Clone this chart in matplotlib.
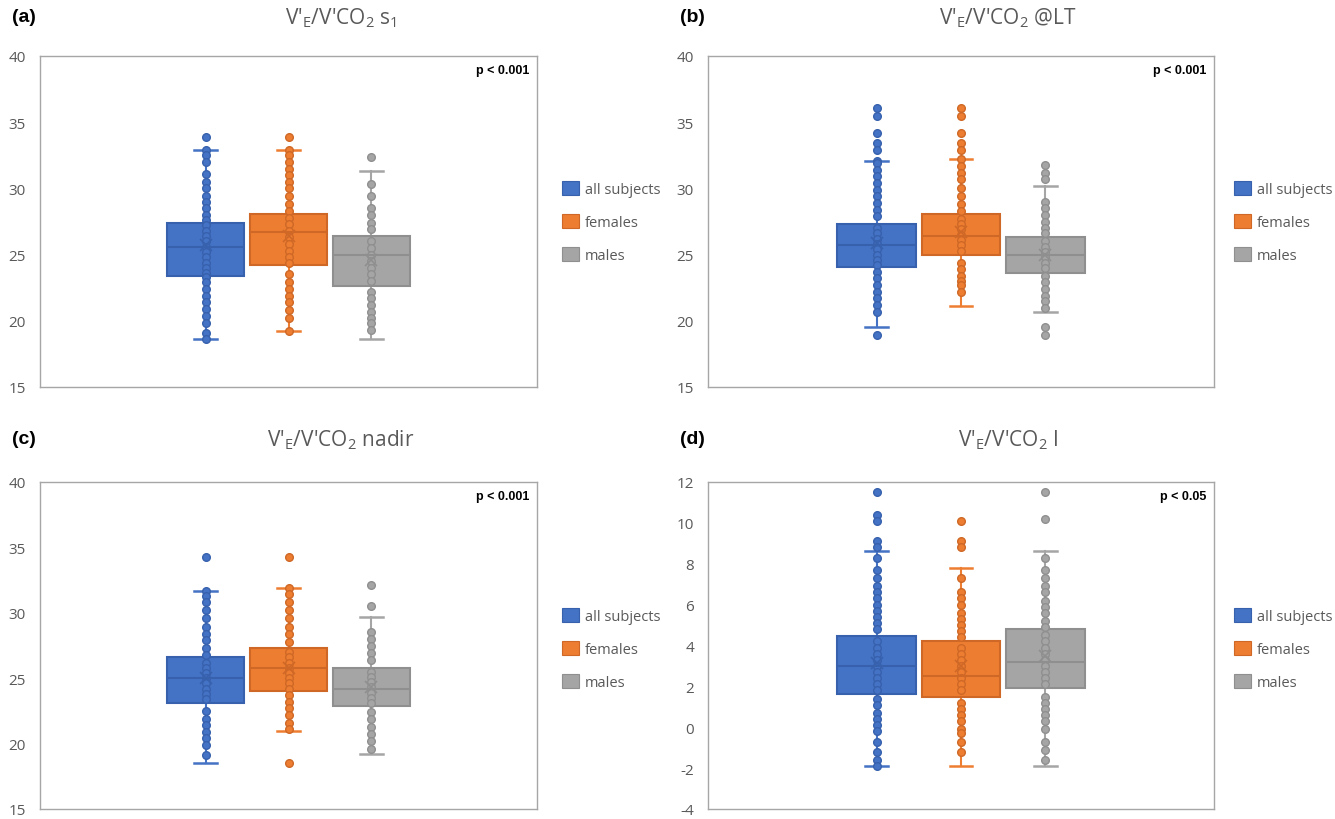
import matplotlib
matplotlib.use("Agg")
import matplotlib.pyplot as plt
from matplotlib.patches import Patch

plt.rcParams["axes.unicode_minus"] = False

# ---- data ----
groups = ["all subjects", "females", "males"]
colors = ["#4472C4", "#ED7D31", "#A5A5A5"]
dark = ["#3761ad", "#cf6826", "#8f8f8f"]

titles = [r"V'$_{\mathregular{E}}$/V'CO$_{\mathregular{2}}$ s$_{\mathregular{1}}$",
          r"V'$_{\mathregular{E}}$/V'CO$_{\mathregular{2}}$ @LT",
          r"V'$_{\mathregular{E}}$/V'CO$_{\mathregular{2}}$ nadir",
          r"V'$_{\mathregular{E}}$/V'CO$_{\mathregular{2}}$ I"]
letters = ["(a)", "(b)", "(c)", "(d)"]
pvals = ["p < 0.001", "p < 0.001", "p < 0.001", "p < 0.05"]

# box summaries: [all, females, males]
a_lo = [18.6, 19.2, 18.6]
a_q1 = [23.4, 24.2, 22.6]
a_med = [25.6, 26.7, 25.0]
a_q3 = [27.4, 28.1, 26.4]
a_hi = [32.9, 32.9, 31.3]
a_mean = [25.7, 26.4, 24.6]

b_lo = [19.5, 21.1, 20.7]
b_q1 = [24.1, 25.0, 23.6]
b_med = [25.7, 26.4, 25.0]
b_q3 = [27.3, 28.1, 26.3]
b_hi = [32.1, 32.2, 30.2]
b_mean = [25.9, 26.7, 25.0]

c_lo = [18.5, 21.0, 19.2]
c_q1 = [23.1, 24.0, 22.9]
c_med = [25.0, 25.8, 24.2]
c_q3 = [26.6, 27.3, 25.8]
c_hi = [31.7, 31.9, 29.7]
c_mean = [25.0, 25.8, 24.3]

d_lo = [-1.9, -1.9, -1.9]
d_q1 = [1.64, 1.5, 1.9]
d_med = [3.0, 2.5, 3.2]
d_q3 = [4.48, 4.2, 4.8]
d_hi = [8.6, 7.8, 8.6]
d_mean = [3.15, 3.0, 3.5]

# individual points
a_all = [33.9, 32.9, 32.5, 32.0, 31.1, 30.5, 30.0, 29.4, 29.0, 28.5, 28.0, 27.6, 27.2, 26.8, 26.4, 26.0,
         25.6, 25.2, 24.8, 24.4, 24.0, 23.6, 23.3, 22.9, 22.4, 21.9, 21.4, 20.9, 20.4, 19.8, 19.1, 18.6]
a_fem = [33.9, 32.9, 32.5, 32.0, 31.5, 31.0, 30.5, 30.0, 29.4, 28.8, 28.3, 27.8, 27.3, 26.8, 26.3, 25.8,
         25.3, 24.8, 24.4, 23.5, 22.9, 22.4, 21.9, 21.4, 20.8, 20.2, 19.2]
a_male = [32.4, 30.3, 29.4, 28.5, 28.0, 27.4, 26.9, 26.0, 25.5, 25.0, 24.5, 24.0, 23.5, 23.0, 22.2,
          21.7, 21.2, 20.7, 20.2, 19.8, 19.3]

b_all = [36.1, 35.5, 34.2, 33.4, 32.9, 32.1, 31.9, 31.4, 30.9, 30.4, 29.9, 29.4, 28.9, 28.4, 27.9, 27.0,
         26.6, 26.2, 25.8, 25.4, 25.0, 24.6, 24.2, 23.7, 23.2, 22.7, 22.2, 21.7, 21.2, 20.7, 18.9]
b_fem = [36.1, 35.5, 34.2, 33.4, 32.9, 32.2, 31.7, 31.2, 30.7, 30.0, 29.4, 28.8, 28.3, 27.7, 27.3, 26.9,
         26.5, 26.1, 25.7, 25.3, 24.4, 23.9, 23.4, 23.0, 22.7, 22.2]
b_male = [31.8, 31.2, 30.7, 29.0, 28.5, 28.0, 27.5, 27.0, 26.6, 26.0, 25.6, 25.2, 24.8, 24.4, 24.0,
          23.4, 22.9, 22.4, 21.9, 21.5, 21.0, 19.5, 18.9]

c_all = [34.3, 31.7, 31.3, 30.8, 30.2, 29.6, 28.9, 28.4, 27.9, 27.3, 26.8, 26.2, 25.8, 25.4, 25.0, 24.6,
         24.2, 23.8, 23.4, 22.5, 21.9, 21.4, 20.9, 20.4, 19.9, 19.1]
c_fem = [34.3, 31.9, 31.4, 30.8, 30.2, 29.6, 28.9, 28.4, 27.8, 27.0, 26.6, 26.2, 25.8, 25.4, 25.0, 24.6,
         24.2, 23.7, 23.2, 22.7, 22.2, 21.6, 21.1, 18.5]
c_male = [32.1, 30.5, 28.5, 28.0, 27.5, 26.9, 26.4, 25.5, 25.1, 24.7, 24.3, 23.9, 23.5, 23.1, 22.4,
          21.9, 21.3, 20.7, 20.2, 19.6]

d_all = [11.5, 10.4, 10.1, 9.1, 8.8, 8.3, 7.7, 7.3, 6.9, 6.6, 6.3, 6.0, 5.7, 5.4, 5.1, 4.8, 4.2, 3.9,
         3.6, 3.3, 3.0, 2.7, 2.4, 2.1, 1.8, 1.4, 1.1, 0.7, 0.4, 0.1, -0.2, -0.7, -1.2, -1.6, -1.9]
d_fem = [10.1, 9.1, 8.8, 7.3, 6.6, 6.3, 6.0, 5.6, 5.3, 5.0, 4.7, 4.4, 3.9, 3.6, 3.3, 3.0, 2.7, 2.4,
         2.1, 1.8, 1.2, 0.9, 0.6, 0.3, -0.1, -0.3, -0.7, -1.2]
d_male = [11.5, 10.2, 8.3, 7.7, 7.3, 6.9, 6.6, 6.2, 5.9, 5.6, 5.2, 4.9, 4.5, 4.2, 3.9, 3.6, 3.3, 3.0,
          2.7, 2.4, 2.1, 1.5, 1.2, 0.9, 0.6, 0.3, -0.1, -0.7, -1.1, -1.6]

panels = [
    (a_lo, a_q1, a_med, a_q3, a_hi, a_mean, [a_all, a_fem, a_male]),
    (b_lo, b_q1, b_med, b_q3, b_hi, b_mean, [b_all, b_fem, b_male]),
    (c_lo, c_q1, c_med, c_q3, c_hi, c_mean, [c_all, c_fem, c_male]),
    (d_lo, d_q1, d_med, d_q3, d_hi, d_mean, [d_all, d_fem, d_male]),
]
yticks = [range(15, 41, 5), range(15, 41, 5), range(15, 41, 5), range(-4, 13, 2)]

# ---- layout (pixels) ----
W, H = 1335, 820
fig = plt.figure(figsize=(W / 100, H / 100), dpi=100)
boxes_px = [(40, 57, 537, 388), (708, 57, 1214, 388), (40, 483, 537, 810), (708, 483, 1214, 810)]
title_x = [341, 1008, 341, 1008]
title_y = [18, 18, 440, 440]
letter_x = [12, 680, 12, 680]
legend_pos = [(562, 223), (1234, 223), (562, 650), (1234, 650)]

txt_gray = "#595959"
body_font = ["Open Sans", "DejaVu Sans"]
bold_font = ["Liberation Sans", "DejaVu Sans"]

for i, (lo, q1, med, q3, hi, mean, pts) in enumerate(panels):
    l, t, r, b = boxes_px[i]
    ax = fig.add_axes([l / W, 1 - b / H, (r - l) / W, (b - t) / H])

    stats = []
    for k in range(3):
        stats.append(dict(whislo=lo[k], q1=q1[k], med=med[k], q3=q3[k], whishi=hi[k], mean=mean[k]))
    bp = ax.bxp(stats, positions=[1, 2, 3], widths=0.93, patch_artist=True, showmeans=True,
                showfliers=False, capwidths=0.27, manage_ticks=False)
    for k in range(3):
        bp["boxes"][k].set(facecolor=colors[k], edgecolor=dark[k], linewidth=1.5, zorder=2)
        bp["medians"][k].set(color=dark[k], linewidth=1.5, zorder=4)
        for w in bp["whiskers"][2 * k:2 * k + 2]:
            w.set(color=colors[k], linewidth=1.5, zorder=1)
        for c in bp["caps"][2 * k:2 * k + 2]:
            c.set(color=colors[k], linewidth=1.8, zorder=1)
        bp["means"][k].set(marker="x", markersize=9, markeredgecolor=dark[k], markeredgewidth=1.2,
                           zorder=5)
        ax.plot([k + 1] * len(pts[k]), pts[k], "o", markersize=5.5, markerfacecolor=colors[k],
                markeredgecolor=dark[k], markeredgewidth=1.0, zorder=3, linestyle="none")

    ax.set_xlim(-1, 5)
    ax.set_ylim(yticks[i][0], yticks[i][-1])
    ax.set_yticks(list(yticks[i]))
    ax.set_xticks([])
    ax.tick_params(axis="y", length=0, pad=10, labelsize=11, labelcolor=txt_gray)
    for lab in ax.get_yticklabels():
        lab.set_family(body_font)
    for s in ax.spines.values():
        s.set_color("#a6a6a6")
        s.set_linewidth(1.0)

    ax.text(0.985, 0.975, pvals[i], transform=ax.transAxes, ha="right", va="top",
            fontsize=9, fontweight="bold", family=bold_font)

    fig.text(title_x[i] / W, 1 - title_y[i] / H, titles[i], ha="center", va="center",
             fontsize=15, color=txt_gray, family=body_font)
    fig.text(letter_x[i] / W, 1 - title_y[i] / H, letters[i], ha="left", va="center",
             fontsize=14, fontweight="bold", family=bold_font)

    handles = [Patch(facecolor=colors[k], edgecolor=dark[k], linewidth=0.8) for k in range(3)]
    lx, ly = legend_pos[i]
    leg = ax.legend(handles, groups, loc="center left", bbox_to_anchor=(lx / W, 1 - ly / H),
                    bbox_transform=fig.transFigure, frameon=False,
                    handlelength=1.15, handleheight=1.15, handletextpad=0.4, labelspacing=1.15,
                    borderpad=0, borderaxespad=0, prop={"family": body_font, "size": 10.5})
    for tx in leg.get_texts():
        tx.set_color(txt_gray)

fig.savefig("out.png", dpi=100)
